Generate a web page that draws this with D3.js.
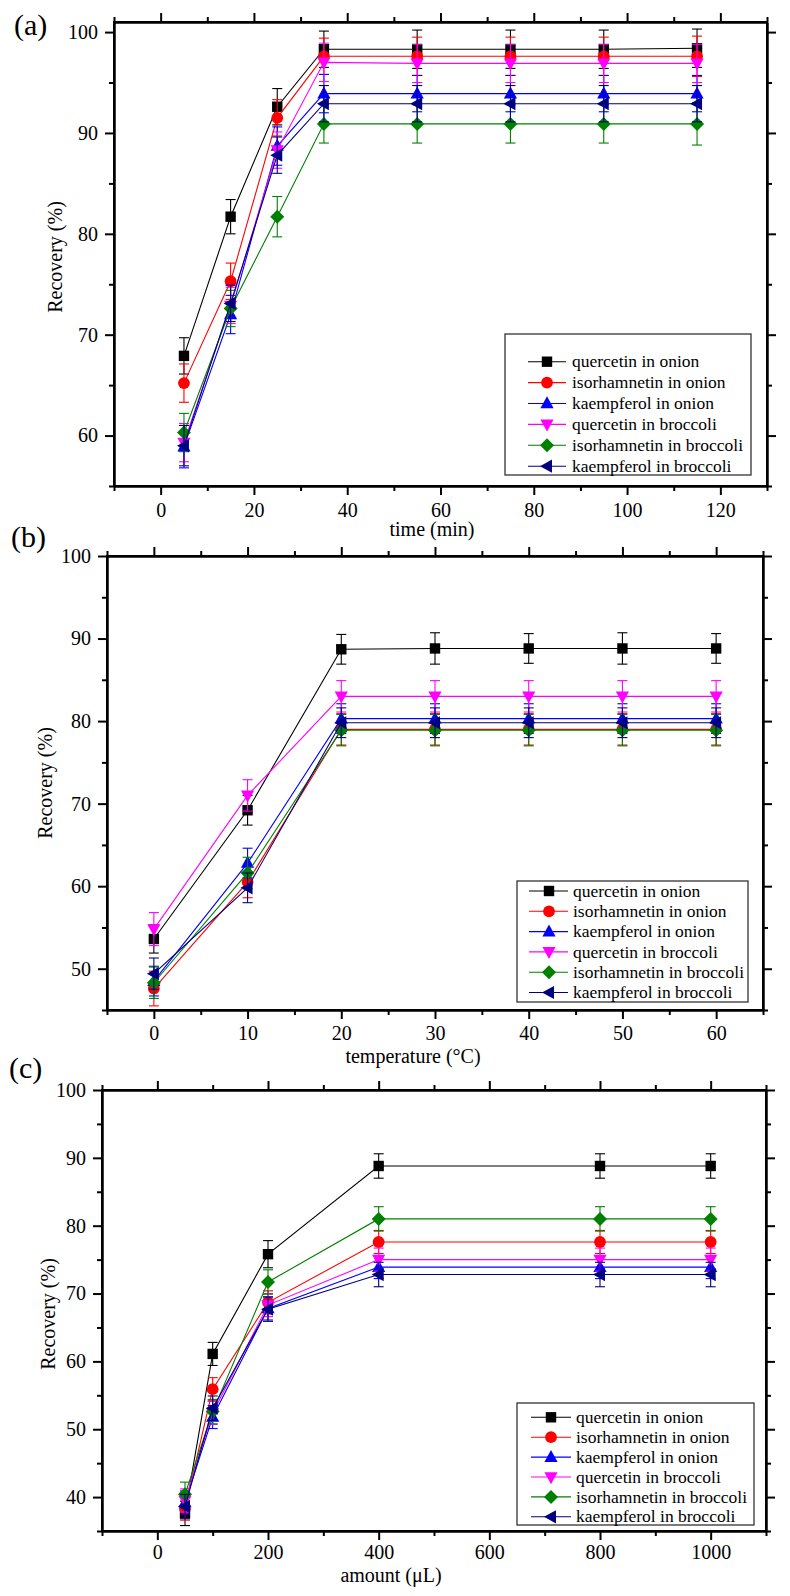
<!DOCTYPE html>
<html>
<head>
<meta charset="utf-8">
<script src="https://cdn.jsdelivr.net/npm/d3@7"></script>
<style>
  html, body { margin: 0; padding: 0; background: #fff; }
  svg { display: block; }
  text { font-family: "Liberation Serif", "Times New Roman", serif; fill: #000; }
</style>
</head>
<body>
<svg id="chart" width="790" height="1596"></svg>
<script>
// ---------------- DATA ----------------
const seriesNames = ["quercetin in onion", "isorhamnetin in onion", "kaempferol in onion",
                     "quercetin in broccoli", "isorhamnetin in broccoli", "kaempferol in broccoli"];
const seriesColors = ["#000000", "#ff0000", "#0000ff", "#ff00ff", "#008000", "#000080"];
const seriesSymbols = ["square", "circle", "triangleUp", "triangleDown", "diamond", "triangleLeft"];

// (a) time (min)
const timeValues = [5, 15, 25, 35, 55, 75, 95, 115];
const aQuercetinOnion     = [67.9, 81.7, 92.6, 98.3, 98.3, 98.3, 98.3, 98.4];
const aIsorhamnetinOnion  = [65.2, 75.3, 91.5, 97.6, 97.6, 97.6, 97.6, 97.6];
const aKaempferolOnion    = [58.9, 72.0, 88.7, 93.9, 93.9, 93.9, 93.9, 93.9];
const aQuercetinBroccoli  = [59.3, 72.9, 88.3, 97.0, 96.9, 96.9, 96.9, 96.9];
const aIsorhamnetinBroccoli = [60.3, 72.6, 81.7, 90.9, 90.9, 90.9, 90.9, 90.9];
const aKaempferolBroccoli = [59.0, 73.1, 87.8, 92.9, 92.9, 92.9, 92.9, 92.9];
const aErrQuercetinOnion     = [1.8, 1.7, 1.8, 1.8, 1.9, 1.9, 1.9, 1.9];
const aErrIsorhamnetinOnion  = [1.9, 1.8, 1.8, 1.8, 1.9, 1.9, 1.9, 2.0];
const aErrKaempferolOnion    = [2.1, 1.9, 1.9, 1.9, 1.8, 1.8, 1.8, 1.8];
const aErrQuercetinBroccoli  = [1.9, 1.8, 1.8, 1.9, 1.9, 1.9, 1.9, 1.9];
const aErrIsorhamnetinBroccoli = [1.9, 1.8, 2.0, 1.9, 1.9, 1.9, 1.9, 2.1];
const aErrKaempferolBroccoli = [2.0, 1.8, 1.8, 1.8, 1.8, 1.8, 1.8, 1.8];
const aXMajor = [0, 20, 40, 60, 80, 100, 120];
const aXMinor = [-10, 10, 30, 50, 70, 90, 110, 130];
const aYMajor = [60, 70, 80, 90, 100];
const aYMinor = [55, 65, 75, 85, 95];

// (b) temperature (°C)
const tempValues = [0, 10, 20, 30, 40, 50, 60];
const bQuercetinOnion     = [53.6, 69.2, 88.7, 88.8, 88.8, 88.8, 88.8];
const bIsorhamnetinOnion  = [47.6, 60.5, 79.0, 79.0, 79.0, 79.0, 79.0];
const bKaempferolOnion    = [48.5, 62.8, 80.3, 80.3, 80.3, 80.3, 80.3];
const bQuercetinBroccoli  = [54.8, 71.0, 83.0, 83.0, 83.0, 83.0, 83.0];
const bIsorhamnetinBroccoli = [48.3, 61.6, 78.9, 78.9, 78.9, 78.9, 78.9];
const bKaempferolBroccoli = [49.4, 59.8, 79.8, 79.8, 79.8, 79.8, 79.8];
const bErrQuercetinOnion     = [1.7, 1.8, 1.8, 1.9, 1.8, 1.9, 1.8];
const bErrIsorhamnetinOnion  = [2.1, 1.9, 1.9, 1.9, 1.9, 1.9, 1.9];
const bErrKaempferolOnion    = [1.8, 1.8, 1.8, 1.8, 1.8, 1.8, 1.8];
const bErrQuercetinBroccoli  = [2.0, 1.9, 1.9, 1.9, 1.9, 1.9, 1.9];
const bErrIsorhamnetinBroccoli = [1.9, 1.9, 1.9, 1.9, 1.9, 1.9, 1.9];
const bErrKaempferolBroccoli = [1.9, 1.8, 1.8, 1.8, 1.8, 1.8, 1.8];
const bXMajor = [0, 10, 20, 30, 40, 50, 60];
const bXMinor = [-5, 5, 15, 25, 35, 45, 55, 65];
const bYMajor = [50, 60, 70, 80, 90, 100];
const bYMinor = [45, 55, 65, 75, 85, 95];

// (c) amount (μL)
const amountValues = [50, 100, 200, 400, 800, 1000];
const cQuercetinOnion     = [37.6, 61.1, 75.8, 88.8, 88.8, 88.8];
const cIsorhamnetinOnion  = [38.3, 55.9, 68.7, 77.6, 77.6, 77.6];
const cKaempferolOnion    = [39.2, 51.8, 67.8, 73.9, 73.9, 73.9];
const cQuercetinBroccoli  = [39.5, 52.4, 68.3, 75.0, 75.0, 75.0];
const cIsorhamnetinBroccoli = [40.4, 52.6, 71.7, 81.0, 81.0, 81.0];
const cKaempferolBroccoli = [38.6, 53.1, 67.7, 72.8, 72.8, 72.8];
const cErrQuercetinOnion     = [1.8, 1.7, 2.0, 1.8, 1.8, 1.8];
const cErrIsorhamnetinOnion  = [1.7, 1.7, 1.7, 1.7, 1.7, 1.7];
const cErrKaempferolOnion    = [1.7, 1.7, 1.7, 1.7, 1.7, 1.7];
const cErrQuercetinBroccoli  = [1.7, 1.7, 1.7, 1.7, 1.7, 1.7];
const cErrIsorhamnetinBroccoli = [1.8, 1.8, 1.8, 1.8, 1.8, 1.8];
const cErrKaempferolBroccoli = [1.8, 1.8, 1.8, 1.8, 1.8, 1.8];
const cXMajor = [0, 200, 400, 600, 800, 1000];
const cXMinor = [-100, 100, 300, 500, 700, 900, 1100];
const cYMajor = [40, 50, 60, 70, 80, 90, 100];
const cYMinor = [35, 45, 55, 65, 75, 85, 95];

// ---------------- LAYOUT ----------------
const panels = [
  {
    letter: "(a)", letterPos: [14, 35],
    box: { l: 114, r: 767, t: 22, b: 486 },
    xDomain: [-10, 130], yDomain: [55, 101],
    xMajor: aXMajor, xMinor: aXMinor, yMajor: aYMajor, yMinor: aYMinor,
    xLabelOffset: 31,
    xTitle: "time (min)", xTitlePos: [432, 536], yTitlePos: [55, 257],
    x: timeValues,
    values: [aQuercetinOnion, aIsorhamnetinOnion, aKaempferolOnion, aQuercetinBroccoli, aIsorhamnetinBroccoli, aKaempferolBroccoli],
    errors: [aErrQuercetinOnion, aErrIsorhamnetinOnion, aErrKaempferolOnion, aErrQuercetinBroccoli, aErrIsorhamnetinBroccoli, aErrKaempferolBroccoli],
    legend: { x: 505, y: 334, w: 246, h: 141, row0: 361.7, gap: 20.9, l0: 528, l1: 566, m: 547, t: 572 }
  },
  {
    letter: "(b)", letterPos: [11, 547],
    box: { l: 107, r: 763, t: 556, b: 1010 },
    xDomain: [-5, 65], yDomain: [45, 100],
    xMajor: bXMajor, xMinor: bXMinor, yMajor: bYMajor, yMinor: bYMinor,
    xLabelOffset: 30,
    xTitle: "temperature (°C)", xTitlePos: [413, 1063], yTitlePos: [45, 783],
    x: tempValues,
    values: [bQuercetinOnion, bIsorhamnetinOnion, bKaempferolOnion, bQuercetinBroccoli, bIsorhamnetinBroccoli, bKaempferolBroccoli],
    errors: [bErrQuercetinOnion, bErrIsorhamnetinOnion, bErrKaempferolOnion, bErrQuercetinBroccoli, bErrIsorhamnetinBroccoli, bErrKaempferolBroccoli],
    legend: { x: 517, y: 881, w: 231, h: 121, row0: 891, gap: 20.3, l0: 529, l1: 568, m: 549, t: 573 }
  },
  {
    letter: "(c)", letterPos: [9, 1078],
    box: { l: 102, r: 766, t: 1090, b: 1531 },
    xDomain: [-100, 1100], yDomain: [35, 100],
    xMajor: cXMajor, xMinor: cXMinor, yMajor: cYMajor, yMinor: cYMinor,
    xLabelOffset: 28,
    xTitle: "amount (μL)", xTitlePos: [391, 1582], yTitlePos: [48, 1314],
    x: amountValues,
    values: [cQuercetinOnion, cIsorhamnetinOnion, cKaempferolOnion, cQuercetinBroccoli, cIsorhamnetinBroccoli, cKaempferolBroccoli],
    errors: [cErrQuercetinOnion, cErrIsorhamnetinOnion, cErrKaempferolOnion, cErrQuercetinBroccoli, cErrIsorhamnetinBroccoli, cErrKaempferolBroccoli],
    legend: { x: 517, y: 1403, w: 237, h: 122, row0: 1417.3, gap: 19.9, l0: 531, l1: 571, m: 551, t: 576 }
  }
];

// ---------------- DRAW ----------------
const svg = d3.select("#chart");
const MAJOR = 9, MINOR = 5, AXIS_W = 2;

function markerPath(type) {
  switch (type) {
    case "square": return "M-5.2,-5.2H5.2V5.2H-5.2Z";
    case "circle": return d3.symbol(d3.symbolCircle, Math.PI * 5.9 * 5.9)();
    case "triangleUp": return "M0,-7.2L6.6,4.8L-6.6,4.8Z";
    case "triangleDown": return "M0,7.2L6.6,-4.8L-6.6,-4.8Z";
    case "diamond": return "M0,-7L7,0L0,7L-7,0Z";
    case "triangleLeft": return "M-7,0L5,-6.6L5,6.6Z";
  }
}

panels.forEach(p => {
  const xs = d3.scaleLinear().domain(p.xDomain).range([p.box.l, p.box.r]);
  const ys = d3.scaleLinear().domain(p.yDomain).range([p.box.b, p.box.t]);
  const g = svg.append("g");

  // series
  p.values.forEach((vals, si) => {
    const color = seriesColors[si];
    const pts = vals.map((v, i) => ({ x: p.x[i], y: v, e: p.errors[si][i] }));
    const sg = g.append("g");
    sg.append("path")
      .attr("d", d3.line().x(d => xs(d.x)).y(d => ys(d.y))(pts))
      .attr("fill", "none").attr("stroke", color).attr("stroke-width", 1.1);
    const eb = sg.selectAll("g.eb").data(pts).enter().append("g")
      .attr("stroke", color).attr("stroke-width", 1.1).attr("fill", "none");
    eb.append("line")
      .attr("x1", d => xs(d.x)).attr("x2", d => xs(d.x))
      .attr("y1", d => ys(d.y - d.e)).attr("y2", d => ys(d.y + d.e));
    eb.append("line")
      .attr("x1", d => xs(d.x) - 5).attr("x2", d => xs(d.x) + 5)
      .attr("y1", d => ys(d.y + d.e)).attr("y2", d => ys(d.y + d.e));
    eb.append("line")
      .attr("x1", d => xs(d.x) - 5).attr("x2", d => xs(d.x) + 5)
      .attr("y1", d => ys(d.y - d.e)).attr("y2", d => ys(d.y - d.e));
    sg.selectAll("path.m").data(pts).enter().append("path")
      .attr("class", "m")
      .attr("d", markerPath(seriesSymbols[si]))
      .attr("transform", d => `translate(${xs(d.x)},${ys(d.y)})`)
      .attr("fill", color);
  });

  // axes
  function styleAxis(sel) {
    sel.attr("font-family", '"Liberation Serif", serif');
    sel.select(".domain").attr("stroke", "#000").attr("stroke-width", AXIS_W);
    sel.selectAll(".tick line").attr("stroke", "#000").attr("stroke-width", AXIS_W);
    sel.selectAll(".tick text").style("font-family", '"Liberation Serif", serif').style("font-size", "20px").attr("fill", "#000");
  }
  const mk = (axisFn, scale, vals, size, labels, pad) => {
    const a = axisFn(scale).tickValues(vals).tickSizeInner(size).tickSizeOuter(0).tickPadding(pad);
    if (!labels) a.tickFormat("");
    else a.tickFormat(d3.format("d"));
    return a;
  };
  // bottom
  styleAxis(g.append("g").attr("transform", `translate(0,${p.box.b})`).call(mk(d3.axisBottom, xs, p.xMinor, MINOR, false, 0)));
  const bMaj = g.append("g").attr("transform", `translate(0,${p.box.b})`).call(mk(d3.axisBottom, xs, p.xMajor, MAJOR, true, 7));
  styleAxis(bMaj);
  bMaj.selectAll(".tick text").attr("dy", null).attr("y", p.xLabelOffset);
  // top
  styleAxis(g.append("g").attr("transform", `translate(0,${p.box.t})`).call(mk(d3.axisTop, xs, p.xMinor, MINOR, false, 0)));
  styleAxis(g.append("g").attr("transform", `translate(0,${p.box.t})`).call(mk(d3.axisTop, xs, p.xMajor, MAJOR, false, 0)));
  // left
  styleAxis(g.append("g").attr("transform", `translate(${p.box.l},0)`).call(mk(d3.axisLeft, ys, p.yMinor, MINOR, false, 0)));
  styleAxis(g.append("g").attr("transform", `translate(${p.box.l},0)`).call(mk(d3.axisLeft, ys, p.yMajor, MAJOR, true, 7)));
  // right
  styleAxis(g.append("g").attr("transform", `translate(${p.box.r},0)`).call(mk(d3.axisRight, ys, p.yMinor, MINOR, false, 0)));
  styleAxis(g.append("g").attr("transform", `translate(${p.box.r},0)`).call(mk(d3.axisRight, ys, p.yMajor, MAJOR, false, 0)));
  // frame
  g.append("rect").attr("x", p.box.l).attr("y", p.box.t)
    .attr("width", p.box.r - p.box.l).attr("height", p.box.b - p.box.t)
    .attr("fill", "none").attr("stroke", "#000").attr("stroke-width", AXIS_W);

  // titles
  g.append("text").attr("x", p.xTitlePos[0]).attr("y", p.xTitlePos[1])
    .attr("text-anchor", "middle").style("font-size", "20px").text(p.xTitle);
  g.append("text")
    .attr("transform", `translate(${p.yTitlePos[0]},${p.yTitlePos[1]}) rotate(-90)`)
    .attr("text-anchor", "middle").attr("dominant-baseline", "central")
    .style("font-size", "20px").text("Recovery (%)");
  g.append("text").attr("x", p.letterPos[0]).attr("y", p.letterPos[1])
    .style("font-size", "30px").text(p.letter);

  // legend
  const L = p.legend;
  const lg = g.append("g");
  lg.append("rect").attr("x", L.x).attr("y", L.y).attr("width", L.w).attr("height", L.h)
    .attr("fill", "#fff").attr("stroke", "#333").attr("stroke-width", 1.3);
  seriesNames.forEach((name, si) => {
    const cy = L.row0 + si * L.gap;
    lg.append("line").attr("x1", L.l0).attr("x2", L.l1).attr("y1", cy).attr("y2", cy)
      .attr("stroke", seriesColors[si]).attr("stroke-width", 1.1);
    lg.append("path").attr("d", markerPath(seriesSymbols[si]))
      .attr("transform", `translate(${L.m},${cy})`).attr("fill", seriesColors[si]);
    lg.append("text").attr("x", L.t).attr("y", cy).attr("dy", "0.32em")
      .style("font-size", "17.5px").text(name);
  });
});
</script>
</body>
</html>
